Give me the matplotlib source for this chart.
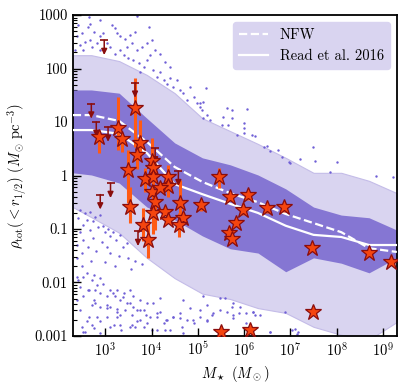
import numpy as np
import matplotlib
matplotlib.use('Agg')
import matplotlib.pyplot as plt
from matplotlib.lines import Line2D

plt.rcParams['font.family'] = 'serif'
plt.rcParams['font.serif'] = ['cmr10', 'DejaVu Serif']
plt.rcParams['mathtext.fontset'] = 'cm'
plt.rcParams['axes.unicode_minus'] = False
plt.rcParams['axes.formatter.use_mathtext'] = True

# ---- band / line data (log10 M_star grid, log10 rho) ----
log_mgrid = [2.3, 2.7, 3.3, 3.9, 4.5, 5.1, 5.7, 6.3, 6.9, 7.5, 8.1, 8.7, 9.3]
outer_hi = [2.25, 2.25, 2.14, 1.88, 1.54, 1.07, 0.83, 0.59, 0.33, 0.05, 0.05, -0.10, -0.33]
outer_lo = [-0.59, -0.78, -1.07, -1.54, -1.92, -2.21, -2.31, -2.48, -2.57, -2.83, -2.98, -3.07, -2.74]
inner_hi = [1.60, 1.60, 1.54, 1.07, 0.61, 0.33, 0.20, 0.01, -0.25, -0.59, -0.74, -0.79, -1.02]
inner_lo = [0.05, 0.01, -0.14, -0.59, -0.83, -1.13, -1.37, -1.45, -1.80, -1.54, -1.64, -1.82, -1.54]
nfw_line = [1.13, 1.13, 1.02, 0.63, 0.16, -0.12, -0.33, -0.50, -0.72, -0.89, -1.06, -1.36, -1.43]
read_line = [0.85, 0.85, 0.78, 0.42, -0.16, -0.35, -0.53, -0.70, -0.94, -1.11, -1.15, -1.30, -1.30]

# ---- scattered simulated haloes outside the band (log10 M, log10 rho) ----
dots_logm = [
    2.42, 2.50, 2.39, 2.62, 2.68, 2.75, 2.89, 2.96, 2.82, 2.71, 2.57, 2.46, 2.35, 3.04, 3.14, 3.22,
    3.25, 3.32, 3.43, 3.54, 3.65, 3.58, 3.47, 3.32, 3.22, 3.40, 3.50, 3.61, 3.72, 3.83, 3.76, 3.90,
    3.97, 4.04, 4.12, 4.19, 4.26, 4.33, 4.40, 4.47, 4.55, 4.62, 4.69, 4.76, 4.83, 4.91, 4.98, 5.05,
    5.12, 5.19, 3.79, 3.68, 3.90, 4.01, 4.08, 4.19, 4.29, 4.40, 3.68, 2.89, 2.64, 3.94, 2.68, 2.89,
    2.53, 3.11,
    5.18, 5.05, 5.09, 5.12, 5.27, 5.63, 5.73, 5.55, 5.73, 5.52, 5.66, 6.06, 5.99, 5.99, 5.99, 5.84,
    6.17, 6.24, 6.42, 6.49, 6.56, 6.74, 6.81, 6.96, 6.99, 7.21, 7.53, 7.48, 8.00, 7.86, 8.85, 9.22,
    2.45, 2.56, 2.67, 2.78, 2.89, 2.42, 2.60, 2.74, 2.96, 3.07, 2.53, 2.85, 3.17, 2.45, 2.67, 2.99,
    3.32, 3.10, 2.74, 2.53, 2.92, 3.24, 3.46, 2.38, 2.63, 3.03, 3.39,
    2.50, 2.80, 3.10, 3.30, 3.50, 3.65, 2.40, 2.70, 3.00, 3.80, 3.20, 3.55,
    2.50, 2.39, 2.60, 2.75, 2.89, 2.46, 2.64, 2.78, 2.89, 3.11, 3.04, 3.22, 3.32, 3.47, 2.53, 2.75,
    2.89, 3.11, 3.25, 3.43, 3.58, 3.68, 3.76, 3.90, 4.01, 4.12, 4.26, 2.46, 2.64, 2.89, 3.11, 3.25,
    3.54, 2.50, 2.71, 2.39,
    2.42, 2.82, 2.96, 3.25, 3.40, 3.54, 3.61, 3.76, 3.90, 3.04, 3.61, 3.83, 3.97, 4.19, 4.33, 4.47,
    4.62, 4.76, 4.91, 5.05, 5.19, 2.71, 2.82, 3.04, 3.18, 2.60, 2.75, 3.32, 3.68, 3.83, 4.12, 4.40,
    4.65, 2.89, 2.53,
    2.53, 2.63, 2.78, 3.03, 3.17, 3.25, 3.32, 3.39, 3.53, 3.57, 3.75, 3.89, 4.04, 4.11, 4.18, 4.32,
    4.47, 4.61, 4.68, 4.83, 4.90, 5.04, 5.19, 5.33, 5.48, 5.62, 5.76, 5.91, 6.05, 6.19, 6.34, 6.55,
    2.56, 2.71, 3.35, 3.64, 4.29, 4.68, 5.76, 6.05,
    5.12, 5.19, 5.30, 5.48, 5.59, 5.73, 5.77, 5.88, 6.20, 6.24, 6.56, 6.88, 7.03, 7.10, 7.17, 7.14,
]
dots_logrho = [
    2.81, 2.66, 2.60, 2.78, 2.84, 2.69, 2.60, 2.66, 2.47, 2.41, 2.50, 2.44, 2.35, 2.47, 2.81, 2.75,
    2.66, 2.60, 2.56, 2.63, 2.69, 2.47, 2.41, 2.35, 2.28, 2.25, 2.19, 2.16, 2.10, 2.03, 1.94, 2.16,
    2.25, 1.97, 1.85, 1.94, 1.79, 1.72, 1.82, 1.66, 1.79, 1.60, 1.54, 1.41, 1.66, 1.47, 1.35, 1.29,
    1.38, 1.13, 2.41, 2.35, 2.47, 2.53, 2.35, 2.28, 2.13, 2.03, 2.98, 2.91, 2.97, 2.78, 2.53, 2.35,
    2.35, 2.41,
    1.63, 1.35, 1.22, 1.07, 1.04, 1.26, 1.22, 1.10, 1.07, 0.94, 0.94, 1.24, 0.98, 0.88, 0.79, 0.76,
    0.76, 0.73, 0.54, 0.56, 0.45, 0.48, 0.35, 0.26, 0.23, 0.30, 0.27, 0.54, 0.26, 0.07, -0.01, -0.02,
    -0.64, -0.71, -0.68, -0.77, -0.74, -0.80, -0.83, -0.86, -0.95, -1.00, -0.93, -0.96, -1.05, -1.05, -1.02, -1.05,
    -1.12, -1.14, -1.17, -1.21, -1.24, -1.21, -1.26, -1.30, -1.33, -1.33, -1.33,
    -1.45, -1.42, -1.45, -1.50, -1.55, -1.60, -1.55, -1.60, -1.62, -1.65, -1.70, -1.75,
    -1.70, -1.89, -1.83, -1.86, -1.92, -2.08, -2.14, -2.14, -2.20, -2.14, -2.26, -2.26, -2.33, -2.39, -2.26, -2.33,
    -2.45, -2.45, -2.55, -2.51, -2.61, -2.51, -2.70, -2.76, -2.89, -2.64, -2.76, -2.51, -2.64, -2.73, -2.83, -2.64,
    -2.83, -2.83, -1.95, -2.33,
    -1.95, -2.05, -2.02, -2.14, -2.20, -2.14, -2.26, -2.33, -2.39, -2.42, -2.45, -2.51, -2.64, -2.55, -2.70, -2.64,
    -2.58, -2.70, -2.76, -2.64, -2.73, -2.42, -2.64, -2.64, -2.79, -2.73, -2.86, -2.79, -2.73, -2.83, -2.89, -2.89,
    -2.83, -2.95, -2.92,
    -1.89, -2.14, -2.39, -2.48, -2.20, -2.50, -2.61, -2.27, -2.39, -2.80, -2.51, -2.61, -2.39, -2.58, -2.30, -2.70,
    -2.64, -2.67, -2.33, -2.48, -2.70, -2.51, -2.70, -2.58, -2.30, -2.55, -2.67, -2.45, -2.58, -2.55, -2.61, -2.92,
    -2.92, -2.80, -2.89, -2.83, -2.89, -2.95, -2.39, -2.76,
    -2.26, -2.42, -2.61, -2.51, -2.30, -2.45, -2.61, -2.58, -2.55, -2.61, -2.92, -2.55, -2.89, -2.88, -2.92, -2.96,
]

# ---- observed dwarfs: stellar mass, density, error-bar ends ----
star_mass = [4.4e3, 1.9e3, 2.3e3, 740, 5.7e3, 4.9e3, 1.03e4, 1.1e4, 7.3e3, 1.1e4, 2.3e4,
             2.3e4, 1.03e4, 1.5e4, 1.2e4, 1.1e4, 2.0e4, 2.3e4, 4.2e4, 4.8e4, 4.0e4,
             6.6e3, 8.5e3, 3.5e3, 3.1e3, 1.2e5, 2.8e5, 5.0e5, 1.2e6, 9.6e5, 6.8e5,
             4.8e5, 5.5e5, 3.2e6, 7.3e6, 2.9e7, 5.0e8, 1.5e9, 3.1e7, 3.2e5, 1.35e6]
star_rho = [18, 7.8, 4.8, 5.3, 4.1, 2.4, 1.87, 1.38, 0.85, 0.93, 0.93,
            0.63, 0.49, 0.59, 0.32, 0.20, 0.21, 0.15, 0.31, 0.16, 0.12,
            0.12, 0.062, 0.26, 1.26, 0.28, 0.93, 0.40, 0.44, 0.23, 0.13,
            0.085, 0.065, 0.25, 0.26, 0.044, 0.035, 0.024, 0.0028, 0.0012, 0.0013]
star_lo = [3.4, 3.0, 2.8, 2.6, 2.2, 1.3, 0.9, 0.8, 0.5, 0.3, 0.4,
           0.63, 0.49, 0.59, 0.094, 0.08, 0.21, 0.15, 0.11, 0.16, 0.07,
           0.06, 0.029, 0.13, 0.3, 0.22, 0.59, 0.33, 0.35, 0.18, 0.13,
           0.085, 0.065, 0.2, 0.21, 0.044, 0.035, 0.024, 0.0028, 0.0012, 0.0013]
star_hi = [66, 30, 6.0, 7.0, 11, 5.0, 5.0, 2.5, 1.4, 1.6, 1.6,
           0.63, 0.49, 0.59, 0.43, 0.3, 0.21, 0.15, 0.83, 0.16, 0.2,
           0.25, 0.15, 0.62, 3.0, 0.36, 1.4, 0.5, 0.55, 0.3, 0.13,
           0.085, 0.065, 0.3, 0.32, 0.044, 0.035, 0.024, 0.0028, 0.0012, 0.0013]

# ---- upper limits ----
lim_mass = [950, 4.4e3, 500, 640, 1.15e3, 1.3e3, 780, 5.1e3, 1.2e4, 3.8e4]
lim_rho = [340, 54, 22, 10, 8.1, 0.72, 0.44, 0.091, 3.2, 1.2]

fig = plt.figure(figsize=(4.07, 3.87), dpi=100)
ax = fig.add_axes([0.179, 0.132, 0.796, 0.829])

mg = 10 ** np.array(log_mgrid)
ax.fill_between(mg, 10 ** np.array(outer_lo), 10 ** np.array(outer_hi),
                color='#d9d4f0', edgecolor='#c4bce8', lw=0.8, zorder=1)
ax.fill_between(mg, 10 ** np.array(inner_lo), 10 ** np.array(inner_hi),
                color='#8576d3', lw=0, zorder=2)
ax.scatter(10 ** np.array(dots_logm), 10 ** np.array(dots_logrho), s=3,
           color='#6f5fd6', lw=0, zorder=1.5)
ax.plot(mg, 10 ** np.array(nfw_line), color='white', ls='--', lw=1.6, zorder=3)
ax.plot(mg, 10 ** np.array(read_line), color='white', ls='-', lw=1.6, zorder=3)

# error bars then stars
smass = np.array(star_mass)
srho = np.array(star_rho)
yerr = [srho - np.array(star_lo), np.array(star_hi) - srho]
ax.errorbar(smass, srho, yerr=yerr, fmt='none', ecolor='#ff5a14', elinewidth=2.2,
            capsize=0, zorder=4)
ax.plot(smass, srho, ls='none', marker='*', ms=12, mfc='#f5450f', mec='#8a0d0d',
        mew=0.9, zorder=6)

# upper limit arrows
for m, r in zip(lim_mass, lim_rho):
    ax.annotate('', xy=(m, r / 1.9), xytext=(m, r),
                arrowprops=dict(arrowstyle='-|>,head_width=0.17,head_length=0.35',
                                color='#8a0d0d', lw=1.1, shrinkA=0, shrinkB=0),
                zorder=5)
ax.plot(lim_mass, lim_rho, ls='none', marker='_', ms=6, mew=1.2, color='#8a0d0d', zorder=5)

ax.set_xscale('log')
ax.set_yscale('log')
ax.set_xlim(10 ** 2.3, 10 ** 9.3)
ax.set_ylim(1e-3, 1e3)

ax.set_yticks([1e-3, 1e-2, 1e-1, 1, 10, 100, 1000])
ax.set_yticklabels(['0.001', '0.01', '0.1', '1', '10', '100', '1000'])
ax.set_xticks([10.0 ** k for k in range(3, 10)])
ax.set_xticklabels([r'$10^{%d}$' % k for k in range(3, 10)])
ax.xaxis.set_minor_locator(matplotlib.ticker.NullLocator())
ax.tick_params(which='both', direction='in', labelsize=10.5)
ax.tick_params(which='major', length=6, width=1)
ax.tick_params(which='minor', length=3, width=0.8)
for s in ax.spines.values():
    s.set_linewidth(1.3)

ax.set_xlabel(r'$M_\star\ (M_\odot)$', fontsize=10.5)
ax.set_ylabel(r'$\rho_{\rm tot}(<r_{1/2})\ (M_\odot\,{\rm pc}^{-3})$', fontsize=10.5)

handles = [Line2D([], [], color='white', ls='--', lw=1.6),
           Line2D([], [], color='white', ls='-', lw=1.6)]
leg = ax.legend(handles, ['NFW', 'Read et al. 2016'], loc='upper right', fontsize=10.5,
                facecolor='#d9d4f0', edgecolor='#d9d4f0', framealpha=1, fancybox=True)
leg.set_zorder(10)

fig.savefig('out.png', dpi=100)
